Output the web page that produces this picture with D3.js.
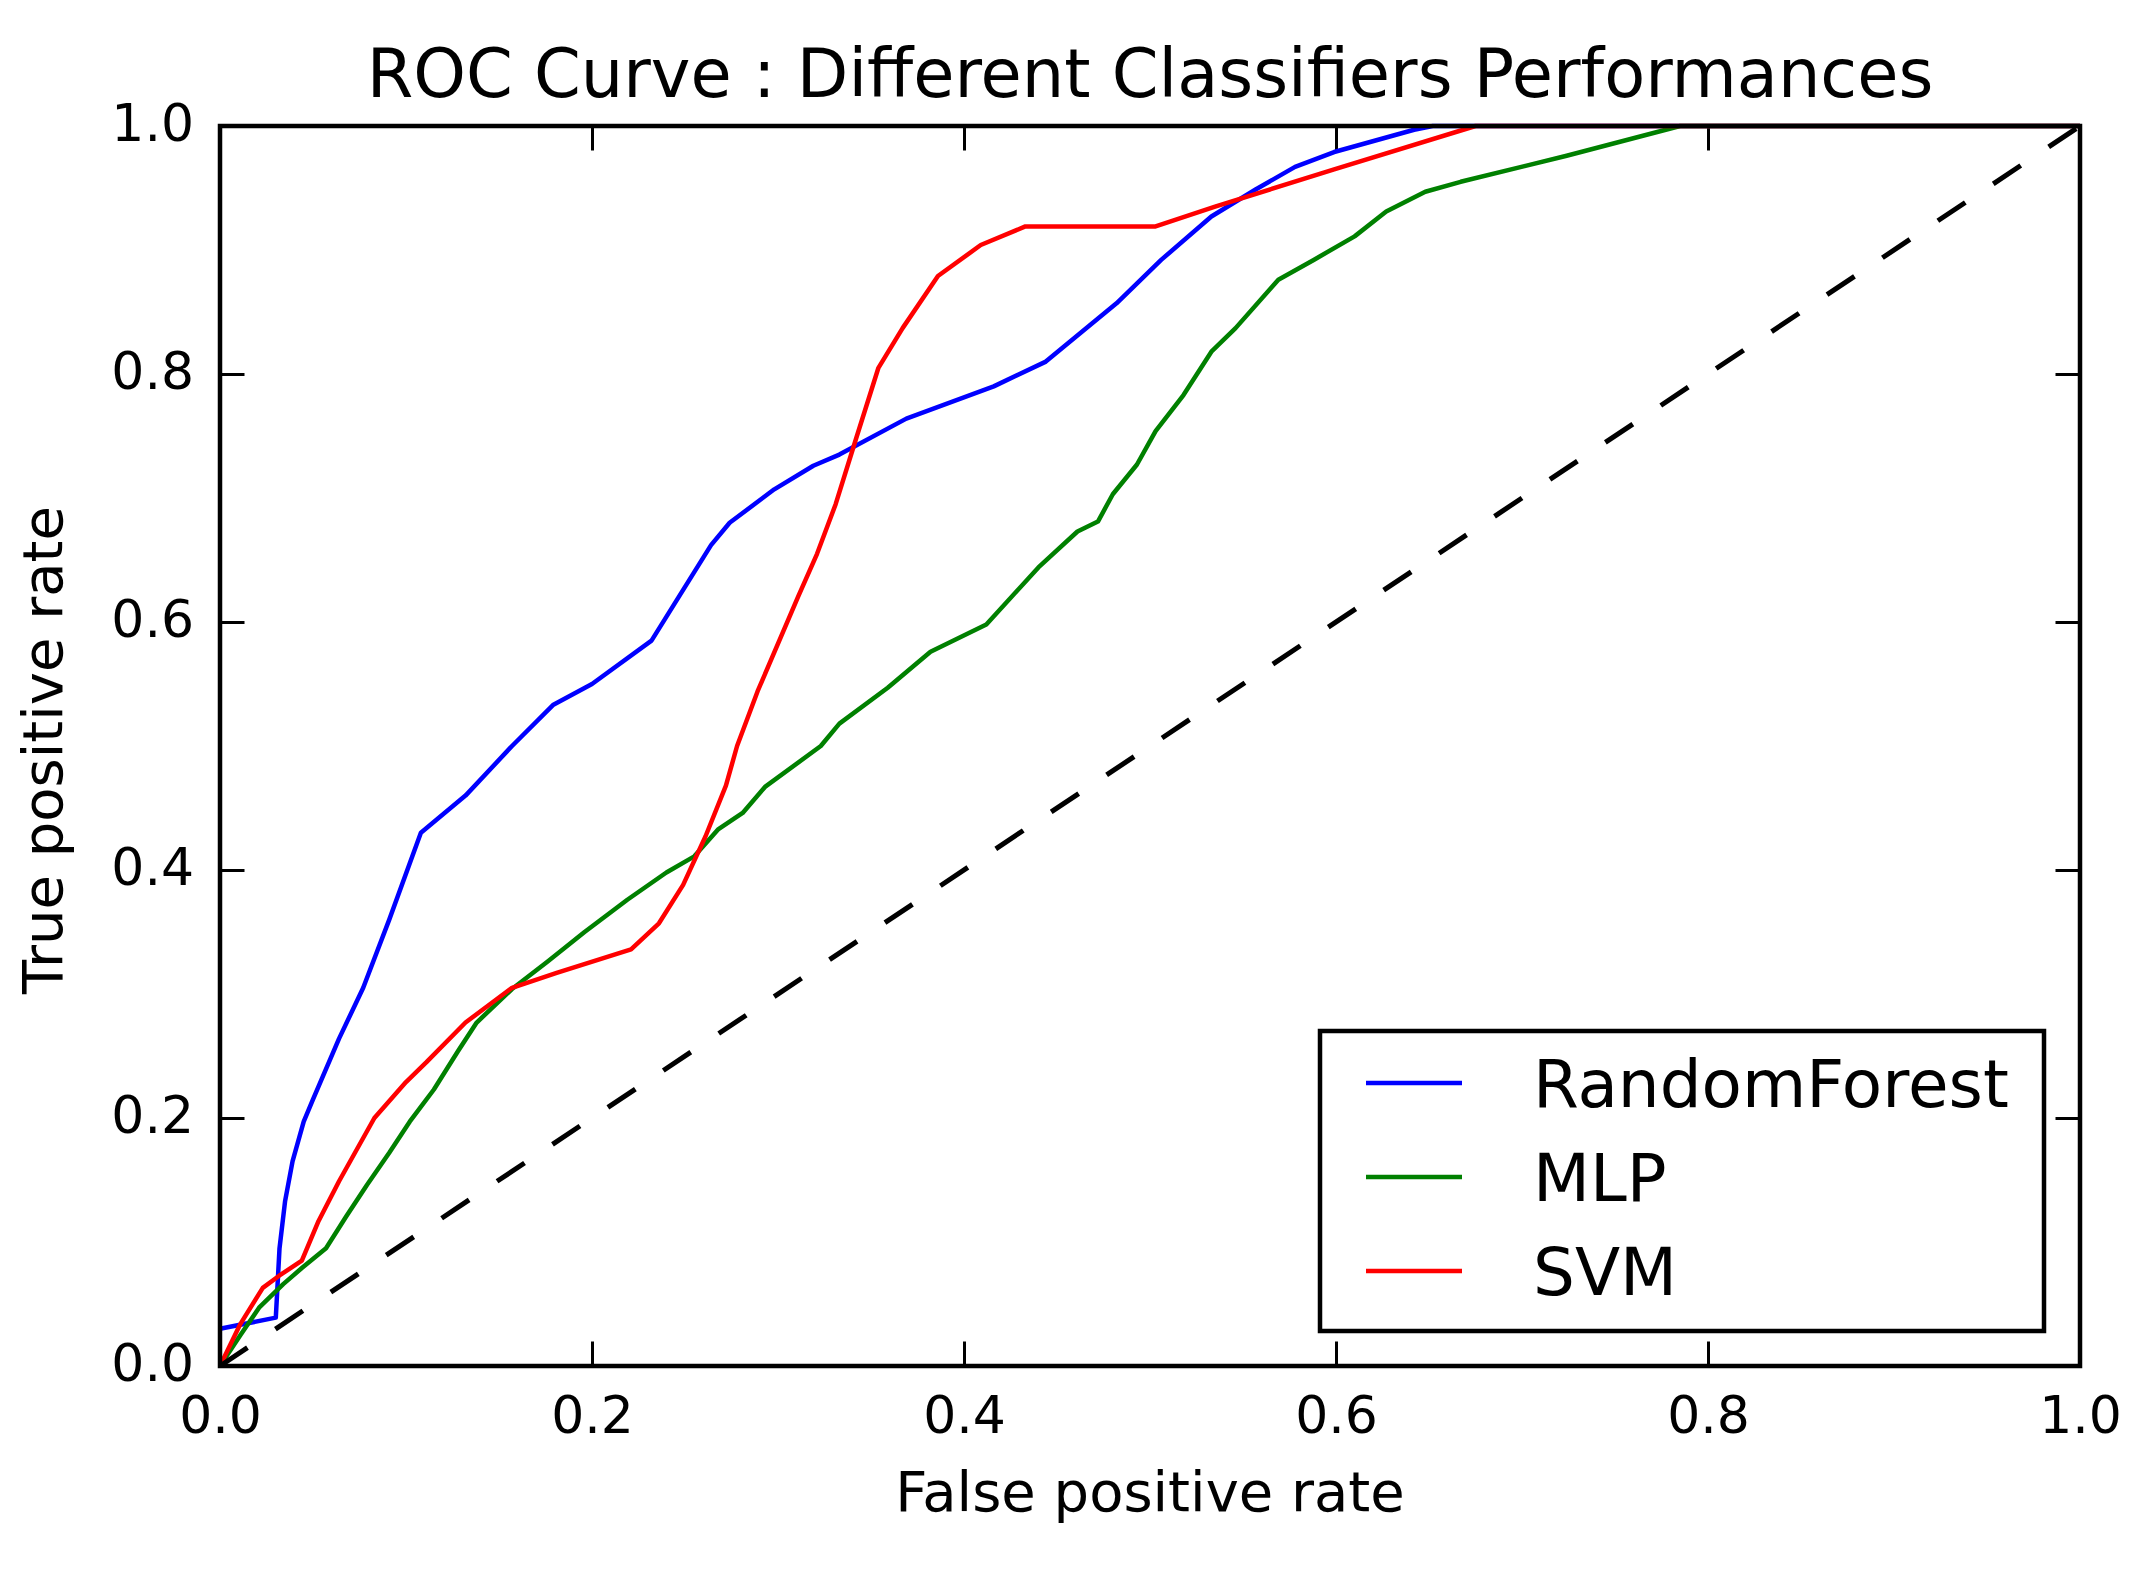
<!DOCTYPE html>
<html lang="en">
<head>
  <meta charset="UTF-8">
  <title>ROC Curve</title>
  <script src="https://d3js.org/d3.v7.min.js"></script>
  <style>
    body { margin: 0; background: #fff; }
    text { font-family: "DejaVu Sans", sans-serif; fill: #000; }
  </style>
</head>
<body>
  <div class="canvas"></div>
  <script>
    // values
    const rfFpr  = [0, .030, .032, .035, .039, .045, .050, .064, .077, .091, .108, .132, .157, .179, .200, .232, .264, .274, .298, .319, .333, .369, .416, .444, .482, .506, .533, .557, .578, .599, .642, .652, 1.0];
    const rfTpr  = [.030, .039, .095, .133, .165, .197, .215, .264, .305, .360, .430, .460, .500, .533, .550, .585, .662, .680, .707, .726, .735, .764, .790, .810, .857, .892, .927, .949, .967, .979, .997, 1.0, 1.0];
    const mlpFpr = [0, .011, .021, .034, .044, .057, .068, .079, .091, .102, .115, .128, .138, .157, .176, .196, .219, .240, .255, .268, .281, .293, .323, .333, .359, .382, .412, .440, .461, .472, .480, .493, .503, .518, .533, .546, .569, .588, .610, .627, .648, .667, .724, .785, 1.0];
    const mlpTpr = [0, .025, .047, .066, .079, .095, .121, .146, .172, .197, .223, .254, .277, .304, .326, .350, .376, .398, .411, .433, .446, .467, .500, .518, .547, .576, .598, .644, .673, .681, .703, .727, .754, .783, .818, .837, .876, .892, .911, .931, .947, .955, .976, 1.0, 1.0];
    const svmFpr = [0, .011, .023, .032, .044, .053, .064, .083, .100, .111, .132, .157, .181, .221, .236, .249, .261, .272, .278, .289, .311, .321, .331, .342, .354, .367, .386, .409, .433, .503, .535, .599, .675, 1.0];
    const svmTpr = [0, .034, .063, .073, .085, .117, .149, .200, .229, .245, .277, .305, .317, .336, .357, .388, .427, .468, .500, .544, .621, .655, .695, .748, .805, .837, .879, .904, .919, .919, .935, .965, 1.0, 1.0];
    const chanceLine = [0, 1];

    const seriesNames = ['RandomForest', 'MLP', 'SVM'];
    const tickValues = [0, 0.2, 0.4, 0.6, 0.8, 1.0];

    const width = 2144;
    const height = 1584;
    const [mt, mr, mb, ml] = [126, 64, 218, 220];
    const graphWidth = width - ml - mr;    // 1860
    const graphHeight = height - mt - mb;  // 1240

    const svg = d3.select('.canvas')
                  .append('svg')
                  .attr('width', width)
                  .attr('height', height);

    svg.append('rect').attr('width', width).attr('height', height).attr('fill', '#fff');

    const graph = svg.append('g')
                     .attr('transform', `translate(${ml}, ${mt})`);

    const x = d3.scaleLinear().domain([0, 1]).range([0, graphWidth]);
    const y = d3.scaleLinear().domain([0, 1]).range([graphHeight, 0]);

    const fmt = d3.format('.1f');
    const tickLen = 24.5;

    // axes, ticks pointing inward like matplotlib classic
    const xAxis = graph.append('g')
      .attr('transform', `translate(0, ${graphHeight})`)
      .call(d3.axisBottom(x).tickValues(tickValues).tickFormat(fmt)
              .tickSizeInner(-tickLen).tickSizeOuter(0).tickPadding(30));
    const yAxis = graph.append('g')
      .call(d3.axisLeft(y).tickValues(tickValues).tickFormat(fmt)
              .tickSizeInner(-tickLen).tickSizeOuter(0).tickPadding(26));
    const topAxis = graph.append('g')
      .call(d3.axisTop(x).tickValues(tickValues).tickFormat('')
              .tickSizeInner(-tickLen).tickSizeOuter(0));
    const rightAxis = graph.append('g')
      .attr('transform', `translate(${graphWidth}, 0)`)
      .call(d3.axisRight(y).tickValues(tickValues).tickFormat('')
              .tickSizeInner(-tickLen).tickSizeOuter(0));

    [xAxis, yAxis, topAxis, rightAxis].forEach(a => {
      a.select('.domain').remove();
      a.selectAll('.tick line').attr('stroke', '#000').attr('stroke-width', 3);
      a.selectAll('.tick text')
        .style('font-family', '"DejaVu Sans", sans-serif')
        .style('font-size', '52px')
        .attr('fill', '#000');
    });
    yAxis.selectAll('.tick text').attr('dy', '0.28em');

    // curves
    const line = d3.line().x(d => x(d[0])).y(d => y(d[1]));
    const curves = [
      { name: seriesNames[0], color: '#0000ff', pts: d3.zip(rfFpr, rfTpr) },
      { name: seriesNames[1], color: '#008000', pts: d3.zip(mlpFpr, mlpTpr) },
      { name: seriesNames[2], color: '#ff0000', pts: d3.zip(svmFpr, svmTpr) }
    ];

    graph.selectAll('path.curve')
      .data(curves)
      .enter()
      .append('path')
      .attr('class', 'curve')
      .attr('d', d => line(d.pts))
      .attr('fill', 'none')
      .attr('stroke', d => d.color)
      .attr('stroke-width', 4.5)
      .attr('stroke-linejoin', 'round');

    // chance diagonal
    graph.append('path')
      .attr('d', line(d3.zip(chanceLine, chanceLine)))
      .attr('fill', 'none')
      .attr('stroke', '#000')
      .attr('stroke-width', 5)
      .attr('stroke-dasharray', '33 33.6');

    // frame
    graph.append('rect')
      .attr('width', graphWidth)
      .attr('height', graphHeight)
      .attr('fill', 'none')
      .attr('stroke', '#000')
      .attr('stroke-width', 4.5);

    // titles
    svg.append('text')
      .attr('x', ml + graphWidth / 2)
      .attr('y', 97)
      .attr('text-anchor', 'middle')
      .style('font-size', '67px')
      .text('ROC Curve : Different Classifiers Performances');

    svg.append('text')
      .attr('x', ml + graphWidth / 2)
      .attr('y', 1511)
      .attr('text-anchor', 'middle')
      .style('font-size', '56px')
      .text('False positive rate');

    svg.append('text')
      .attr('transform', `translate(62, ${mt + graphHeight / 2 + 4}) rotate(-90)`)
      .attr('text-anchor', 'middle')
      .style('font-size', '56px')
      .text('True positive rate');

    // legend
    const legend = svg.append('g').attr('transform', 'translate(1320, 1031)');
    legend.append('rect')
      .attr('width', 724)
      .attr('height', 300)
      .attr('fill', '#fff')
      .attr('stroke', '#000')
      .attr('stroke-width', 4.5);

    const item = legend.selectAll('g.item')
      .data(curves)
      .enter()
      .append('g')
      .attr('class', 'item')
      .attr('transform', (d, i) => `translate(0, ${52 + i * 94})`);

    item.append('line')
      .attr('x1', 46).attr('x2', 142)
      .attr('stroke', d => d.color)
      .attr('stroke-width', 4.5);

    item.append('text')
      .attr('x', 213)
      .attr('y', 24)
      .style('font-size', '66px')
      .text(d => d.name);
  </script>
</body>
</html>
